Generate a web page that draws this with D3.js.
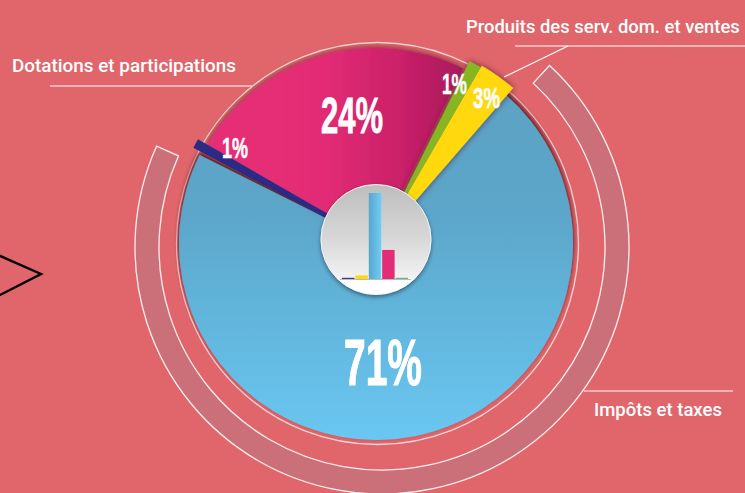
<!DOCTYPE html>
<html><head><meta charset="utf-8">
<script src="https://cdn.jsdelivr.net/npm/d3@7/dist/d3.min.js"></script>
<style>html,body{margin:0;padding:0;background:#e0666b;overflow:hidden}svg{display:block}</style>
</head><body><div id="c"></div>
<script>
const categories = ["Impôts et taxes","Concours","Dotations et participations","Divers","Produits des serv. dom. et ventes"];
const values = [71,1,24,1,3];
const pctLabels = ["71%","1%","24%","1%","3%"];
const barOrder = [1,4,0,2,3];
const W=745,H=493,cx=376,cy=243;
const svg=d3.select("#c").append("svg").attr("width",W).attr("height",H);
svg.append("rect").attr("width",W).attr("height",H).attr("fill","#e0666b");
const defs=svg.append("defs");
function grad(id,x2,y2,stops){const g=defs.append("linearGradient").attr("id",id).attr("x1",0).attr("y1",0).attr("x2",x2).attr("y2",y2);
 stops.forEach(s=>g.append("stop").attr("offset",s[0]).attr("stop-color",s[1]));}
grad("gBlue",0,1,[[0,"#5ba2c4"],[.35,"#5ca6ca"],[1,"#69c7f1"]]);
grad("gPink",1,0,[[0,"#e62e76"],[.45,"#e32c75"],[.75,"#cb2069"],[1,"#a81a5c"]]);
grad("gDisc",0,1,[[0,"#bdbdbd"],[.5,"#d8d8d8"],[.85,"#f2f2f2"],[.87,"#ffffff"],[1,"#ffffff"]]);
grad("gBar",1,0,[[0,"#58a6cc"],[1,"#6fcdf6"]]);
const f=defs.append("filter").attr("id","sh").attr("x","-20%").attr("y","-20%").attr("width","140%").attr("height","140%");
f.append("feDropShadow").attr("dx",0).attr("dy",0).attr("stdDeviation",3).attr("flood-color","#3a0a20").attr("flood-opacity",.7);
const f3=defs.append("filter").attr("id","shB").attr("x","-10%").attr("y","-10%").attr("width","120%").attr("height","120%");
f3.append("feDropShadow").attr("dx",0).attr("dy",-3).attr("stdDeviation",2.5).attr("flood-color","#4a0d12").attr("flood-opacity",1);
const f2=defs.append("filter").attr("id","sh2").attr("x","-30%").attr("y","-30%").attr("width","160%").attr("height","160%");
f2.append("feDropShadow").attr("dx",0).attr("dy",2).attr("stdDeviation",2).attr("flood-color","#000").attr("flood-opacity",.45);

// marker at left
svg.append("path").attr("d",d3.line()([[-2,255],[41,274],[-2,296]])).attr("fill","none").attr("stroke","#000").attr("stroke-width",2.4);

const deg=Math.PI/180;
// outer band
const start=40.9*deg;
svg.append("path").attr("transform","translate(382,247)")
 .attr("d",d3.arc()({innerRadius:223,outerRadius:247,startAngle:42.7*deg,endAngle:294.1*deg}))
 .attr("fill","#cb7078").attr("stroke","#fdeeee").attr("stroke-width",1.3);
// thin circle
svg.append("circle").attr("cx",377.5).attr("cy",243.5).attr("r",201).attr("fill","none").attr("stroke","#f5d6d6").attr("stroke-width",1.3);

const pie=d3.pie().sort(null).startAngle(start).endAngle(start+2*Math.PI)(values);
const radii=[197,206,195,203,205];
const offs=[0,0,0,3,3];
const fills=["url(#gBlue)","#2b2a85","url(#gPink)","#86b723","#ffd811"];
const g=svg.append("g").attr("transform",`translate(${cx},${cy})`);
const slice=(sel,i)=>sel.append("path").attr("transform",`translate(${offs[i]},0)`).attr("d",d3.arc().innerRadius(0).outerRadius(radii[i])(pie[i])).attr("fill",fills[i]);
slice(g,0).attr("filter","url(#shB)");
slice(g,2).attr("filter","url(#sh)");
const g2=g.append("g").attr("filter","url(#sh)");
slice(g2,3); slice(g2,4);
// the narrow slice keeps a nearly parallel band in the source
{
 const mid=(pie[1].startAngle+pie[1].endAngle)/2+0.6*deg, r0=50, r1=radii[1];
 const ux=Math.sin(mid),uy=-Math.cos(mid),nx=-uy,ny=ux;
 const pt=(r,w)=>[ux*r+nx*w,uy*r+ny*w];
 g.append("path").attr("d",d3.line()([pt(r0,-2.2),pt(r1,-4.8),pt(r1,4.8),pt(r0,2.2)])+"Z").attr("fill",fills[1]);
}
// center disc
svg.append("circle").attr("cx",376).attr("cy",239.5).attr("r",55).attr("fill","url(#gDisc)").attr("stroke","#f4f4f4").attr("stroke-width",1).attr("filter","url(#sh2)");
// mini bars
const x=d3.scaleBand().domain(barOrder).range([342,408]).paddingInner(.07);
const y=d3.scaleLinear().domain([0,71]).range([279,193]);
const barFills={0:"url(#gBar)",1:"#3b3a99",2:"#e32c75",3:"#62b88a",4:"#ffd811"};
svg.selectAll("rect.b").data(barOrder).enter().append("rect").attr("class","b")
 .attr("x",d=>x(d)).attr("width",x.bandwidth()).attr("y",d=>y(values[d])).attr("height",d=>y(0)-y(values[d])).attr("fill",d=>barFills[d]);
svg.append("line").attr("x1",340).attr("x2",411).attr("y1",279.5).attr("y2",279.5).attr("stroke","#bbb");

// squeeze a text into a measured width with a real transform, so its box is true
function fit(t,px,py,w){
 const len=t.node().getComputedTextLength();
 t.attr("transform",`translate(${px},${py}) scale(${w/len},1)`);
 return t;
}
// percent labels: x, baseline, size, width
const pctPos=[[344,385,64,78],[222,158,29,26],[321,133,50,62],[442,94,29,25],[473,108,29,27]];
pctLabels.forEach((t,i)=>{
 const p=pctPos[i];
 const el=svg.append("text").attr("font-family","'Liberation Sans Narrow','Liberation Sans'").attr("font-weight",700).attr("font-size",p[2]).attr("fill","#fff")
  .attr("stroke","#fff").attr("stroke-width",p[2]/60).text(t);
 fit(el,p[0],p[1],p[3]);
});
// labels
const lab=[[12,72,2,224],[466,33,4,274],[594,416,0,128]];
lab.forEach(l=>{
 const el=svg.append("text").attr("font-family","Roboto").attr("font-weight",500).attr("font-size",19).attr("fill","#fff").text(categories[l[2]]);
 fit(el,l[0],l[1],l[3]);
});
// leaders
const line=d3.line();
[[[50,86],[252,86]],[[745,46],[515,46]],[[568,46],[504,77]],[[584,391],[733,391]]].forEach(s=>
 svg.append("path").attr("d",line(s)).attr("fill","none").attr("stroke","#fff").attr("stroke-width",1.2));
</script></body></html>
